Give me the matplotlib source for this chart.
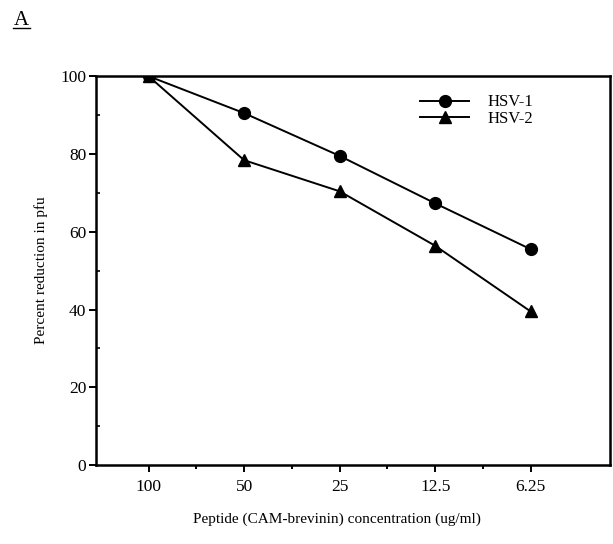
import numpy as np
import matplotlib.pyplot as plt
from matplotlib.ticker import MultipleLocator

plt.rcParams['font.family'] = ['Liberation Serif', 'DejaVu Serif']

# Data
concentrations = ['100', '50', '25', '12.5', '6.25']
hsv1 = [100, 90.5, 79.5, 67.3, 55.5]
hsv2 = [100, 78.4, 70.4, 56.4, 39.5]

x = np.arange(len(concentrations))

fig = plt.figure(figsize=(6.13, 5.44), dpi=100)
ax = fig.add_axes([0.1566, 0.145, 0.8385, 0.715])

ax.plot(x, hsv1, color='black', lw=1.4, marker='o', ms=8.5, label='HSV-1')
ax.plot(x, hsv2, color='black', lw=1.4, marker='^', ms=9, label='HSV-2')

ax.set_xlim(-0.55, 4.83)
ax.set_ylim(0, 100)
ax.set_xticks(x)
ax.set_xticklabels(concentrations)
ax.set_xticks(x[:-1] + 0.5, minor=True)
ax.yaxis.set_major_locator(MultipleLocator(20))
ax.yaxis.set_minor_locator(MultipleLocator(10))

for s in ax.spines.values():
    s.set_linewidth(1.8)
ax.tick_params(axis='both', which='major', labelsize=12.5, width=1.4, length=5, direction='out')
ax.tick_params(axis='x', which='minor', width=1.4, length=3, direction='out')
ax.tick_params(axis='y', which='minor', width=1.2, length=3, direction='in')
ax.tick_params(axis='x', pad=5)
ax.tick_params(axis='y', pad=2)

ax.set_ylabel('Percent reduction in pfu', fontsize=11, labelpad=8.5)

leg = ax.legend(loc='upper left', bbox_to_anchor=(0.618, 0.97), frameon=False,
                fontsize=12, handlelength=2.95, handletextpad=1.1,
                labelspacing=0.05, borderaxespad=0)

fig.text(0.55, 0.046, 'Peptide (CAM-brevinin) concentration (ug/ml)',
         ha='center', va='center', fontsize=11)
fig.text(0.035, 0.963, 'A', ha='center', va='center', fontsize=15)
fig.add_artist(plt.Line2D([0.021, 0.049], [0.949, 0.949], color='black', lw=1.0))

fig.savefig('out.png', dpi=100)
